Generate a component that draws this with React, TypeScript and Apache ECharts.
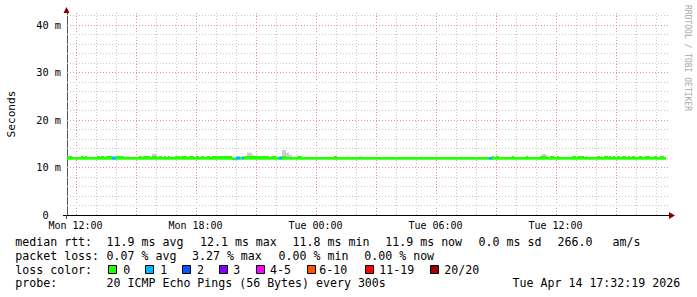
import React, { useEffect, useRef } from "react";
import * as echarts from "echarts";

// ---- axis ranges (minutes relative to Mon 12:00, milliseconds) ----
const X_MIN = -25.5;
const X_MAX = 1774.5;
const Y_MIN = 0;
const Y_MAX = 42.5;

// ---- tick labels ----
const xLabelValues = [0, 360, 720, 1080, 1440];
const xLabelTexts = ["Mon 12:00", "Mon 18:00", "Tue 00:00", "Tue 06:00", "Tue 12:00"];
const yLabelValues = [0, 10, 20, 30, 40];
const yLabelTexts = ["0\u00a0\u00a0", "10 m", "20 m", "30 m", "40 m"];

// ---- grid lines ----
const hourGridMin = [0, 60, 120, 180, 240, 300, 360, 420, 480, 540, 600, 660, 720, 780, 840, 900, 960, 1020, 1080, 1140, 1200, 1260, 1320, 1380, 1440, 1500, 1560, 1620, 1680, 1740];
const majorHourGridMin = [0, 180, 360, 540, 720, 900, 1080, 1260, 1440, 1620];
const msGrid = [2, 4, 6, 8, 10, 12, 14, 16, 18, 20, 22, 24, 26, 28, 30, 32, 34, 36, 38, 40, 42];
const majorMsGrid = [10, 20, 30, 40];

// ---- median rtt segments (start minute, median ms, loss class) ----
const medianStartMin = [
  -25, -10, 17, 24, 27, 34, 64, 72, 77, 86, 92, 109, 122, 146, 190, 198, 202, 224, 230, 244,
  251, 260, 265, 272, 276, 284, 299, 314, 316, 334, 340, 356, 360, 369, 376, 384, 394, 404, 409, 470,
  482, 492, 498, 506, 580, 586, 600, 610, 620, 632, 665, 678, 775, 785, 1241, 1249, 1256, 1261, 1271, 1309,
  1316, 1350, 1356, 1392, 1412, 1422, 1435, 1444, 1450, 1490, 1502, 1505, 1525, 1532, 1535, 1564, 1572, 1577, 1580, 1584,
  1597, 1599, 1607, 1612, 1619, 1625, 1632, 1640, 1652, 1657, 1662, 1670, 1677, 1690, 1700, 1707, 1722, 1736, 1743, 1752,
  1764,
];
const medianMs = [
  12.1, 11.9, 12.1, 11.9, 12.1, 11.9, 12.1, 11.9, 12.1, 11.9, 12.1, 12.0, 12.1, 11.9, 12.1, 11.9, 12.1, 11.9, 12.1, 11.9,
  12.1, 11.9, 12.1, 11.9, 12.1, 11.9, 12.1, 11.9, 12.1, 11.9, 12.1, 11.9, 12.1, 11.9, 12.1, 11.9, 12.1, 11.9, 12.1, 11.8,
  12.0, 11.9, 12.0, 12.1, 11.9, 12.1, 11.9, 12.0, 12.1, 11.9, 12.1, 11.9, 12.1, 11.9, 11.9, 12.1, 11.9, 12.1, 11.9, 12.1,
  11.9, 12.1, 11.9, 12.1, 11.9, 12.1, 11.9, 12.1, 11.9, 12.1, 11.9, 12.1, 11.9, 12.1, 11.9, 12.1, 11.9, 12.1, 11.9, 12.1,
  11.9, 12.1, 11.9, 12.1, 11.9, 12.1, 11.9, 12.1, 11.9, 12.1, 11.9, 12.1, 11.9, 12.1, 11.9, 12.1, 11.9, 12.1, 11.9, 12.1,
  11.9,
];
const medianLoss = [
  0, 0, 0, 0, 0, 0, 0, 0, 0, 0, 0, 1, 0, 0, 0, 0, 0, 0, 0, 0,
  0, 0, 0, 0, 0, 0, 0, 0, 0, 0, 0, 0, 0, 0, 0, 0, 0, 0, 0, 0,
  1, 0, 1, 0, 0, 0, 0, 1, 0, 0, 0, 0, 0, 0, 1, 0, 0, 0, 0, 0,
  0, 0, 0, 0, 0, 0, 0, 0, 0, 0, 0, 0, 0, 0, 0, 0, 0, 0, 0, 0,
  0, 0, 0, 0, 0, 0, 0, 0, 0, 0, 0, 0, 0, 0, 0, 0, 0, 0, 0, 0,
  0,
];
const medianEndMin = 1771;
const baseMedianMs = 11.9;

// ---- smoke (spread of ping rtts above the median) ----
const smokeStartMin = [151, 230, 241, 299, 376, 515, 528, 620, 632, 640, 665, 775, 815, 850, 1066, 1271, 1332, 1400, 1412];
const smokeEndMin = [161, 241, 244, 309, 386, 528, 536, 632, 640, 648, 678, 785, 820, 858, 1076, 1280, 1340, 1412, 1418];
const smokeTopMs = [12.4, 12.9, 12.5, 12.4, 12.4, 13.1, 12.6, 13.7, 13.1, 12.7, 12.35, 12.3, 12.3, 12.35, 12.2, 12.2, 12.25, 12.85, 12.5];

// ---- legend ----
const lossColors = ["#26ff00", "#00b8ff", "#0059ff", "#7e00ff", "#ff00ff", "#ff5500", "#ff0000", "#a10000"];
const lossLabels = ["0", "1", "2", "3", "4-5", "6-10", "11-19", "20/20"];
const row1Texts = ["median rtt:", "11.9 ms avg", "12.1 ms max", "11.8 ms min", "11.9 ms now", "0.0 ms sd", "266.0", "am/s"];
const row2Texts = ["packet loss:", "0.07 % avg", "3.27 % max", "0.00 % min", "0.00 % now"];
const row3Title = "loss color:";
const row4Texts = ["probe:", "20 ICMP Echo Pings (56 Bytes) every 300s", "Tue Apr 14 17:32:19 2026"];
const watermarkText = "RRDTOOL / TOBI OETIKER";
const yAxisTitle = "Seconds";

// ---- layout (pixels) ----
const row1X = [15.3, 106.6, 200, 292.6, 385.3, 478.6, 557.6, 612.6];
const row2X = [15.3, 106.6, 192, 278.6, 364.3];
const row3BoxX = [108.5, 145.5, 182.5, 219.5, 256.5, 307.5, 365.5, 430.5];
const row3LabelX = [123.3, 160.3, 197, 233.3, 270, 319.3, 379.3, 444.3];
const row4X = [15.3, 106.6, 512.6];
const rowY = [241.5, 255.5, 269.5, 283];

const MONO = '"DejaVu Sans Mono", monospace';
const nb = (s: string) => s.replace(/ /g, "\u00a0");

export default function App() {
  const ref = useRef<HTMLDivElement>(null);

  useEffect(() => {
    if (!ref.current) return;
    const chart = echarts.init(ref.current, undefined, { renderer: "svg" });

    const medianData = medianStartMin.map((s, i) => [
      s,
      i + 1 < medianStartMin.length ? medianStartMin[i + 1] : medianEndMin,
      medianMs[i],
      medianLoss[i],
    ]);
    const smokeData = smokeStartMin.map((s, i) => [s, smokeEndMin[i], smokeTopMs[i]]);

    const legendFont = `11.6px ${MONO}`;
    const graphics: any[] = [];
    const addText = (text: string, x: number, y: number) =>
      graphics.push({
        type: "text",
        x,
        y,
        silent: true,
        style: { text: nb(text), font: legendFont, fill: "#000", verticalAlign: "middle", align: "left" },
      });
    row1Texts.forEach((t, i) => addText(t, row1X[i], rowY[0]));
    row2Texts.forEach((t, i) => addText(t, row2X[i], rowY[1]));
    addText(row3Title, 15.3, rowY[2]);
    lossLabels.forEach((t, i) => {
      graphics.push({
        type: "rect",
        silent: true,
        shape: { x: row3BoxX[i], y: 265.5, width: 8, height: 8 },
        style: { fill: lossColors[i], stroke: "#000", lineWidth: 1 },
      });
      addText(t, row3LabelX[i], rowY[2]);
    });
    row4Texts.forEach((t, i) => addText(t, row4X[i], rowY[3]));

    // watermark
    graphics.push({
      type: "text",
      x: 687,
      y: 5,
      rotation: -Math.PI / 2,
      silent: true,
      style: { text: watermarkText, font: `8px ${MONO}`, fill: "#a8a8a8", align: "left", verticalAlign: "middle" },
    });
    // axis extensions and arrows
    graphics.push({ type: "line", silent: true, shape: { x1: 667, y1: 215.5, x2: 670, y2: 215.5 }, style: { stroke: "#000", lineWidth: 1 } });
    graphics.push({ type: "line", silent: true, shape: { x1: 63, y1: 215.5, x2: 67, y2: 215.5 }, style: { stroke: "#000", lineWidth: 1 } });
    graphics.push({ type: "line", silent: true, shape: { x1: 66.5, y1: 215, x2: 66.5, y2: 219 }, style: { stroke: "#555", lineWidth: 1 } });
    graphics.push({ type: "polygon", silent: true, shape: { points: [[669, 212], [669, 219], [675, 215.5]] }, style: { fill: "#7f0000" } });
    graphics.push({ type: "polygon", silent: true, shape: { points: [[63.5, 13], [69.5, 13], [66.5, 7]] }, style: { fill: "#7f0000" } });

    const vGridRender = (params: any, api: any) => {
      const v = api.value(0);
      const p0 = api.coord([v, Y_MIN]);
      const p1 = api.coord([v, Y_MAX]);
      const x = Math.round(p0[0]) + 0.5;
      const major = majorHourGridMin.indexOf(v) >= 0;
      return {
        type: "line",
        silent: true,
        shape: { x1: x, y1: p0[1], x2: x, y2: p1[1] },
        style: { stroke: major ? "#f08c8c" : "#c8c8c8", lineWidth: 1, lineDash: [1, 2] },
      };
    };
    const hGridRender = (params: any, api: any) => {
      const v = api.value(0);
      const p0 = api.coord([X_MIN, v]);
      const p1 = api.coord([X_MAX, v]);
      const y = Math.round(p0[1]) + 0.5;
      const major = majorMsGrid.indexOf(v) >= 0;
      return {
        type: "line",
        silent: true,
        shape: { x1: p0[0], y1: y, x2: p1[0] + 2, y2: y },
        style: { stroke: major ? "#f08c8c" : "#c8c8c8", lineWidth: 1, lineDash: [1, 2] },
      };
    };
    const smokeRender = (params: any, api: any) => {
      const a = api.coord([api.value(0), api.value(2)]);
      const b = api.coord([api.value(1), baseMedianMs]);
      const x0 = Math.round(a[0]);
      const x1 = Math.round(b[0]);
      return {
        type: "rect",
        silent: true,
        shape: { x: x0, y: a[1], width: Math.max(1, x1 - x0), height: b[1] - a[1] },
        style: { fill: "#cdcdcd" },
      };
    };
    const medianRender = (params: any, api: any) => {
      const v = api.value(2);
      const a = api.coord([api.value(0), v]);
      const b = api.coord([api.value(1), v]);
      const fl = api.coord([api.value(0), Math.min(v, baseMedianMs)]);
      const x0 = Math.round(a[0]);
      const x1 = Math.round(b[0]);
      const top = a[1] - 1.5;
      const bottom = fl[1] + 1.3;
      return {
        type: "rect",
        silent: true,
        shape: { x: x0, y: top, width: Math.max(1, x1 - x0), height: bottom - top },
        style: { fill: lossColors[api.value(3)] },
      };
    };

    chart.setOption({
      animation: false,
      backgroundColor: "#ffffff",
      grid: { left: 67, top: 13, width: 600, height: 202, containLabel: false, outerBoundsMode: "none" },
      xAxis: {
        type: "value",
        min: X_MIN,
        max: X_MAX,
        splitLine: { show: false },
        axisTick: { show: false },
        axisLine: { show: true, onZero: false, lineStyle: { color: "#000", width: 1 } },
        axisLabel: {
          customValues: xLabelValues,
          margin: 5,
          lineHeight: 10,
          color: "#000",
          fontFamily: MONO,
          fontSize: 10,
          formatter: (v: number) => {
            const i = xLabelValues.indexOf(v);
            return i >= 0 ? xLabelTexts[i] : "";
          },
        },
      },
      yAxis: {
        type: "value",
        min: Y_MIN,
        max: Y_MAX,
        interval: 10,
        name: yAxisTitle,
        nameLocation: "middle",
        nameGap: 50,
        nameRotate: 90,
        nameTextStyle: { fontFamily: MONO, fontSize: 11.2, color: "#000" },
        splitLine: { show: false },
        axisTick: { show: false },
        axisLine: { show: true, onZero: false, lineStyle: { color: "#555", width: 1 } },
        axisLabel: {
          customValues: yLabelValues,
          margin: 6,
          lineHeight: 10,
          color: "#000",
          fontFamily: MONO,
          fontSize: 10.3,
          formatter: (v: number) => {
            const i = yLabelValues.indexOf(v);
            return i >= 0 ? yLabelTexts[i] : "";
          },
        },
      },
      series: [
        { type: "custom", name: "vgrid", renderItem: vGridRender, data: hourGridMin.map((v) => [v]), encode: { x: 0 }, z: 1, silent: true },
        { type: "custom", name: "hgrid", renderItem: hGridRender, data: msGrid.map((v) => [v]), encode: { y: 0 }, z: 1, silent: true },
        { type: "custom", name: "smoke", renderItem: smokeRender, data: smokeData, encode: { x: [0, 1], y: 2 }, z: 2, silent: true },
        { type: "custom", name: "median", renderItem: medianRender, data: medianData, encode: { x: [0, 1], y: 2 }, z: 3, silent: true },
      ],
      graphic: { elements: graphics },
    });

    return () => chart.dispose();
  }, []);

  return (
    <div
      ref={ref}
      style={{ position: "fixed", left: 0, top: 0, width: 697, height: 297, background: "#fff" }}
    />
  );
}
